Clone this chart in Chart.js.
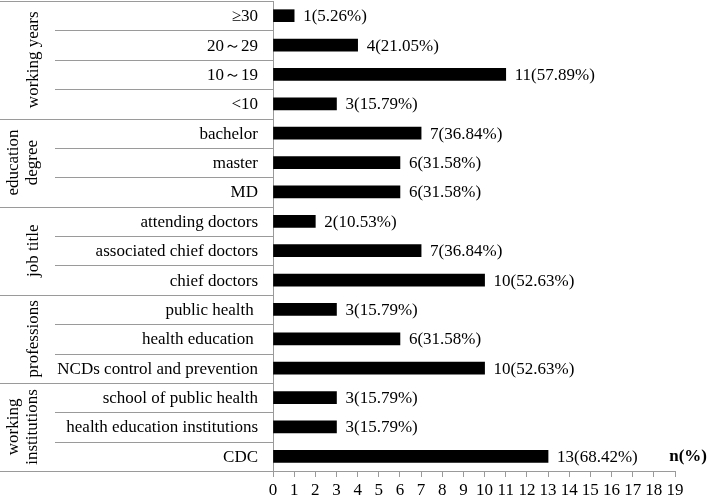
<!DOCTYPE html>
<html>
<head>
<meta charset="utf-8">
<script src="https://cdn.jsdelivr.net/npm/chart.js@4"></script>
<style>
  html, body { margin: 0; padding: 0; background: #fff; }
  #wrap { width: 708px; height: 498px; }
</style>
</head>
<body>
<div id="wrap"><canvas id="barChart"></canvas></div>
<script>
// categories, top to bottom
const categories = [
  '≥30', '20～29', '10～19', '<10',
  'bachelor', 'master', 'MD',
  'attending doctors', 'associated chief doctors', 'chief doctors',
  'public health ', 'health education ', 'NCDs control and prevention',
  'school of public health', 'health education institutions', 'CDC'
];
const counts = [1, 4, 11, 3, 7, 6, 6, 2, 7, 10, 3, 6, 10, 3, 3, 13];
const percents = ['5.26', '21.05', '57.89', '15.79', '36.84', '31.58', '31.58', '10.53',
  '36.84', '52.63', '15.79', '31.58', '52.63', '15.79', '15.79', '68.42'];

// groups on the left, with how many rows each one spans
const groupNames = [['working years'], ['education', 'degree'], ['job title'], ['professions'], ['working', 'institutions']];
const groupSizes = [4, 3, 3, 3, 3];

const xMax = 19;
const serif = '"Liberation Serif", "Times New Roman", serif';
const fontSize = 17;

// draws the table on the left, the value labels and the unit label
const tablePlugin = {
  id: 'table',
  afterDraw(chart) {
    const { ctx, chartArea, scales: { y } } = chart;
    const left = chartArea.left;
    const rowH = (chartArea.bottom - chartArea.top) / categories.length;
    const edge = i => Math.round(y.getPixelForValue(i) - rowH / 2) + 0.5;

    ctx.save();
    ctx.strokeStyle = '#9a9a9a';
    ctx.lineWidth = 1;

    // row and group lines
    const groupEdges = [0];
    groupSizes.reduce((acc, n) => { groupEdges.push(acc + n); return acc + n; }, 0);
    for (let i = 0; i <= categories.length; i++) {
      const yy = i === categories.length ? Math.round(chartArea.bottom) + 0.5 : edge(i);
      const x0 = groupEdges.includes(i) ? 0 : 55;
      ctx.beginPath();
      ctx.moveTo(x0, yy);
      ctx.lineTo(left, yy);
      ctx.stroke();
    }

    // category labels
    ctx.fillStyle = '#000';
    ctx.font = fontSize + 'px ' + serif;
    ctx.textAlign = 'right';
    ctx.textBaseline = 'middle';
    categories.forEach((c, i) => {
      ctx.fillText(c, 258, y.getPixelForValue(i) + 1);
    });

    // group labels, rotated
    let start = 0;
    groupNames.forEach((lines, g) => {
      const end = start + groupSizes[g];
      const midY = (y.getPixelForValue(start) + y.getPixelForValue(end - 1)) / 2;
      const xs = lines.length === 1 ? [34] : [14, 33];
      lines.forEach((t, k) => {
        ctx.save();
        ctx.translate(xs[k], midY);
        ctx.rotate(-Math.PI / 2);
        ctx.textAlign = 'center';
        ctx.fillText(t, 0, 0);
        ctx.restore();
      });
      start = end;
    });

    // value labels
    const meta = chart.getDatasetMeta(0);
    ctx.textAlign = 'left';
    meta.data.forEach((bar, i) => {
      ctx.fillText(counts[i] + '(' + percents[i] + '%)', bar.x + 9, bar.y + 1);
    });

    // unit label
    ctx.font = 'bold ' + fontSize + 'px ' + serif;
    ctx.textAlign = 'right';
    ctx.fillText('n(%)', 707, 457);
    ctx.restore();
  }
};

const barChartData = {
  labels: categories,
  datasets: [{
    data: counts,
    backgroundColor: '#000',
    barThickness: 12
  }]
};

const barChartOptions = {
  indexAxis: 'y',
  responsive: true,
  maintainAspectRatio: false,
  animation: false,
  layout: { padding: { top: 1, right: 33, left: 0, bottom: 0 } },
  plugins: { legend: { display: false }, tooltip: { enabled: false } },
  scales: {
    x: {
      min: 0,
      max: xMax,
      ticks: {
        stepSize: 1, color: '#000', padding: 3,
        autoSkip: false, maxRotation: 0, minRotation: 0,
        font: { family: serif, size: fontSize }
      },
      grid: { drawOnChartArea: false, tickLength: 6, color: '#9a9a9a' },
      border: { color: '#9a9a9a' },
      afterFit: s => { s.height = 27; }
    },
    y: {
      ticks: { display: false },
      grid: { display: false },
      border: { color: '#9a9a9a' },
      afterFit: s => { s.width = 273; }
    }
  }
};

new Chart(document.getElementById('barChart').getContext('2d'), {
  type: 'bar',
  data: barChartData,
  options: barChartOptions,
  plugins: [tablePlugin]
});
</script>
</body>
</html>
